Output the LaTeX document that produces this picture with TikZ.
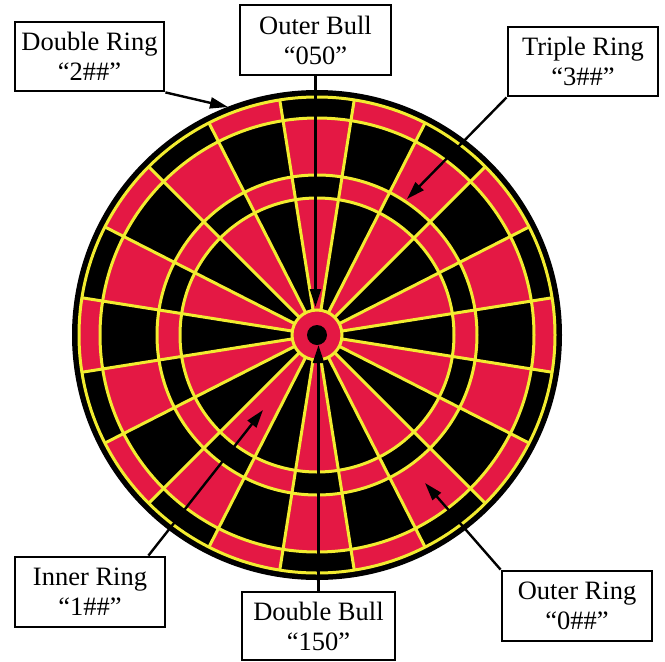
\documentclass[tikz,border=0pt]{standalone}
\usepackage{fontspec}
\setmainfont{Liberation Serif}
\usetikzlibrary{arrows.meta,calc}
\definecolor{dred}{RGB}{228,24,68}
\definecolor{yel}{RGB}{242,236,48}
\tikzset{
  lbl/.style={draw=black, line width=2.8pt, fill=white, align=center, inner sep=0pt,
    font=\fontsize{26.5}{30}\selectfont},
  pointer/.style={line width=2.4pt, -{Triangle[length=18pt,width=11pt]}},
  yl/.style={draw=yel, line width=3pt}
}
\begin{document}
\begin{tikzpicture}[x=1pt,y=-1pt]
\fill[white] (0,0) rectangle (665,662);
\useasboundingbox (0,0) rectangle (665,662);
\begin{scope}[shift={(317,335)}]
  \fill[black] (0,0) circle (245);
  \foreach \k [evaluate=\k as \a using \k*18-9, evaluate=\k as \b using \k*18+9] in {0,2,...,18}{
    \fill[dred] (\a:137) arc (\a:\b:137) -- (\b:160) arc (\b:\a:160) -- cycle;
    \fill[dred] (\a:217) arc (\a:\b:217) -- (\b:238) arc (\b:\a:238) -- cycle;
  }
  \foreach \k [evaluate=\k as \a using \k*18-9, evaluate=\k as \b using \k*18+9] in {1,3,...,19}{
    \fill[dred] (\a:25) arc (\a:\b:25) -- (\b:137) arc (\b:\a:137) -- cycle;
    \fill[dred] (\a:160) arc (\a:\b:160) -- (\b:217) arc (\b:\a:217) -- cycle;
  }
  \foreach \k [evaluate=\k as \a using \k*18+9] in {0,...,19}{
    \draw[yl] (\a:25) -- (\a:238);
  }
  \draw[yl] (0,0) circle (137) circle (160) circle (217) circle (238);
  \fill[dred] (0,0) circle (25);
  \draw[yl] (0,0) circle (25);
  \fill[black] (0,0) circle (10);
\end{scope}

\node[lbl, minimum width=149pt, minimum height=69pt] (dring) at (89.5,56.5) {Double Ring\\``2\#\#''};
\node[lbl, minimum width=151pt, minimum height=70pt] (obull) at (315.5,40) {Outer Bull\\``050''};
\node[lbl, minimum width=150pt, minimum height=69pt] (tring) at (583,61.5) {Triple Ring\\``3\#\#''};
\node[lbl, minimum width=150pt, minimum height=70pt] (iring) at (90,592) {Inner Ring\\``1\#\#''};
\node[lbl, minimum width=153pt, minimum height=68pt] (dbull) at (318.5,626) {Double Bull\\``150''};
\node[lbl, minimum width=150pt, minimum height=70pt] (oring) at (577,606) {Outer Ring\\``0\#\#''};

\coordinate (tdr) at (228,107);
\coordinate (tob) at (315.5,307);
\coordinate (ttr) at (407,199);
\coordinate (tir) at (263,410);
\coordinate (tdb) at (318.5,345);
\coordinate (tor) at (425,483);

\draw[pointer] (dring.south east) -- (tdr);
\draw[pointer] (obull.south) -- (tob);
\draw[pointer] (tring.south west) -- (ttr);
\draw[pointer] ($(iring.north east)+(-18,0)$) -- (tir);
\draw[pointer] (dbull.north) -- (tdb);
\draw[pointer] (oring.north west) -- (tor);
\end{tikzpicture}
\end{document}
